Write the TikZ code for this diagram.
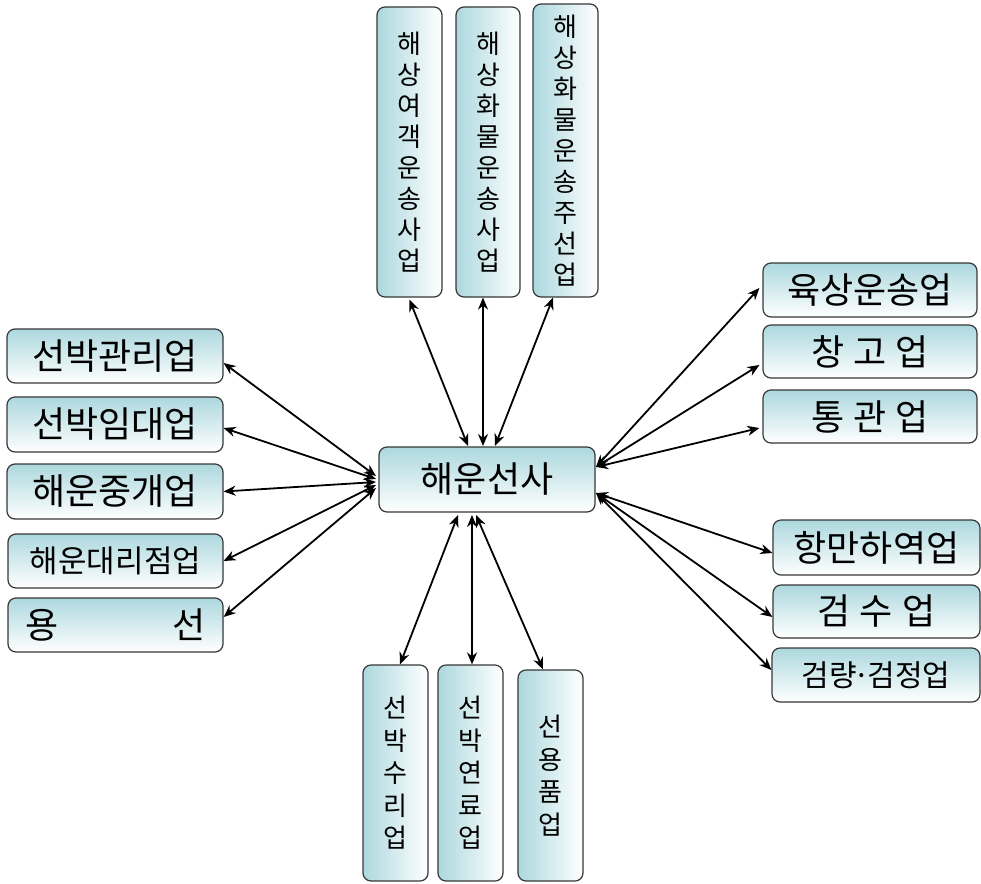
\documentclass[tikz,border=0pt]{standalone}
\usepackage{fontspec}
\newfontfamily\kr{Noto Sans CJK KR}
\usetikzlibrary{arrows.meta,calc}
\definecolor{boxblue}{RGB}{172,216,222}
\definecolor{boxline}{RGB}{55,55,55}
\tikzset{
  box/.style={draw=boxline, line width=1.2pt, rounded corners=8pt, inner sep=0pt,
    font=\kr\fontsize{36}{36}\selectfont, text=black},
  hbox/.style={box, top color=boxblue, bottom color=white},
  vbox/.style={box, left color=boxblue, right color=white, align=center,
    font=\kr\fontsize{26}{31}\selectfont},
  link/.style={line width=1.8pt, {Stealth[length=12pt,width=10pt]}-{Stealth[length=12pt,width=10pt]}}
}
\begin{document}
\begin{tikzpicture}[x=1pt,y=-1pt]
\useasboundingbox (0,0) rectangle (981,883);
% hub
\node[hbox, minimum width=216pt, minimum height=65pt] (hub) at (487,479.5) {해운선사};
% top
\node[vbox, minimum width=65pt, minimum height=290pt] (t1) at (409.5,152) {해\\상\\여\\객\\운\\송\\사\\업};
\node[vbox, minimum width=64pt, minimum height=290pt] (t2) at (488,152) {해\\상\\화\\물\\운\\송\\사\\업};
\node[vbox, minimum width=65pt, minimum height=293pt] (t3) at (565.5,150.5) {해\\상\\화\\물\\운\\송\\주\\선\\업};
% left
\node[hbox, minimum width=216pt, minimum height=54pt] (l1) at (115,356) {선박관리업};
\node[hbox, minimum width=216pt, minimum height=55pt] (l2) at (115,424.5) {선박임대업};
\node[hbox, minimum width=216pt, minimum height=55pt] (l3) at (115,491.5) {해운중개업};
\node[hbox, minimum width=215pt, minimum height=54pt, font=\kr\fontsize{31}{31}\selectfont] (l4) at (115.5,561) {해운대리점업};
\node[hbox, minimum width=215pt, minimum height=54pt] (l5) at (115.5,625) {\makebox[180pt][s]{용\hfill 선}};
% right
\node[hbox, minimum width=214pt, minimum height=54pt] (r1) at (870,290) {육상운송업};
\node[hbox, minimum width=214pt, minimum height=53pt] (r2) at (870,351.5) {창\hspace{9pt}고\hspace{9pt}업};
\node[hbox, minimum width=214pt, minimum height=53pt] (r3) at (870,416.5) {통\hspace{9pt}관\hspace{9pt}업};
\node[hbox, minimum width=207pt, minimum height=55pt] (r4) at (876.5,547.5) {항만하역업};
\node[hbox, minimum width=207pt, minimum height=53pt] (r5) at (876.5,611.5) {검\hspace{9pt}수\hspace{9pt}업};
\node[hbox, minimum width=208pt, minimum height=54pt, font=\kr\fontsize{30}{30}\selectfont] (r6) at (876,675) {검량\kern-3pt·\kern-3pt검정업};
% bottom
\node[vbox, minimum width=65pt, minimum height=216pt, font=\kr\fontsize{26}{32.5}\selectfont] (b1) at (395.5,773) {선\\박\\수\\리\\업};
\node[vbox, minimum width=65pt, minimum height=216pt, font=\kr\fontsize{26}{32.5}\selectfont] (b2) at (470.5,773) {선\\박\\연\\료\\업};
\node[vbox, minimum width=65pt, minimum height=211pt, font=\kr\fontsize{26}{32.5}\selectfont] (b3) at (550.5,775.5) {선\\용\\품\\업};
% hub-side ends
\coordinate (hl1) at (376,476);
\coordinate (hl2) at (376,479);
\coordinate (hl3) at (376,482);
\coordinate (hl4) at (376,485);
\coordinate (hl5) at (376,488);
\coordinate (hr1) at (596,467);
\coordinate (hr2) at (596,493);
\coordinate (ht1) at (468,446);
\coordinate (ht2) at (483,446);
\coordinate (ht3) at (495,446);
\coordinate (hb1) at (458,515);
\coordinate (hb2) at (472,515);
\coordinate (hb3) at (476,515);
% connectors
\draw[link] (hl1) -- ([yshift=-7pt]l1.east);
\draw[link] (hl2) -- ([yshift=-3.5pt]l2.east);
\draw[link] (hl3) -- (l3.east);
\draw[link] (hl4) -- (l4.east);
\draw[link] (hl5) -- ([yshift=8pt]l5.east);
\draw[link] (hr1) -- ([xshift=-3pt,yshift=2pt]r1.west);
\draw[link] (hr1) -- ([xshift=-3pt,yshift=-13.5pt]r2.west);
\draw[link] (hr1) -- ([xshift=-3pt,yshift=-11.5pt]r3.west);
\draw[link] (hr2) -- ([yshift=-5.5pt]r4.west);
\draw[link] (hr2) -- ([yshift=-5.5pt]r5.west);
\draw[link] (hr2) -- ([yshift=5pt]r6.west);
\draw[link] (ht1) -- ([yshift=-2pt]t1.south);
\draw[link] (ht2) -- ([xshift=-5pt]t2.south);
\draw[link] (ht3) -- ([xshift=-12.5pt]t3.south);
\draw[link] (hb1) -- ([xshift=4.5pt]b1.north);
\draw[link] (hb2) -- ([xshift=1.5pt]b2.north);
\draw[link] (hb3) -- ([xshift=-7.5pt]b3.north);
\end{tikzpicture}
\end{document}
